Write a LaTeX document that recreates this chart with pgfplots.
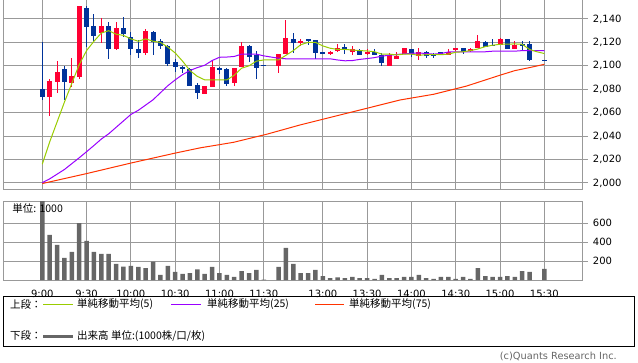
\documentclass[border=0pt]{standalone}
\usepackage{fontspec}
\setmainfont{DejaVu Sans}
\newfontfamily\jp{Noto Sans CJK JP}
\usepackage{pgfplots}
\usepackage{pgfplotstable}
\pgfplotsset{compat=1.18}
\definecolor{cred}{RGB}{255,0,51}
\definecolor{cblue}{RGB}{0,51,153}
\definecolor{ma5}{RGB}{153,204,0}
\definecolor{ma25}{RGB}{153,0,255}
\definecolor{ma75}{RGB}{255,51,0}
\definecolor{vol}{RGB}{102,102,102}
\definecolor{gridc}{RGB}{153,153,153}

\pgfplotstableread{
x o h l c
1 2073.8 2088.5 2057.5 2087.3
2 2086.5 2104 2077 2095
4 2085.6 2107 2081.7 2091.3
5 2090.7 2151.4 2088.8 2151.4
8 2127.8 2140.6 2119.8 2134
10 2114.4 2137.2 2113.5 2132
14 2110.7 2131.2 2109.3 2129.8
22 2076 2083 2076 2082.8
23 2081.7 2105 2081.7 2099.3
26 2085.1 2098 2083.1 2097.9
27 2098.8 2120.1 2098.8 2117
32 2100.1 2110.1 2094.2 2110.1
33 2109.9 2139.1 2109.9 2124
35 2119.8 2122.7 2117.2 2121.5
39 2110.1 2112.9 2109 2111.8
40 2112.7 2118.7 2111.6 2115.5
42 2111.8 2117 2109.5 2114.4
44 2110.1 2114.7 2109 2111.8
47 2100.1 2110.7 2100.1 2109.5
48 2105.9 2111.6 2105.9 2108.7
49 2109.9 2115.2 2109.9 2115.2
51 2108.4 2115 2105 2111.6
55 2109.5 2114.1 2109.5 2111.8
56 2113.3 2115.5 2113 2115
58 2112.4 2115 2112 2114.1
59 2115 2126.6 2115 2121.2
62 2117.8 2123.5 2117.8 2122.9
64 2114.1 2121 2114 2118.1
}\upc

\pgfplotstableread{
x o h l c
0 2080.2 2120 2070.9 2073.7
3 2097.3 2100.1 2070.9 2086
6 2149.7 2151.4 2116.4 2133.4
7 2134.3 2144 2121.5 2125.7
9 2134 2137.4 2106.1 2114.1
11 2132 2141.4 2124.4 2127
12 2124.9 2128.6 2109.3 2114.4
13 2114.4 2122.1 2106.4 2110.7
15 2128.6 2129.8 2109 2120.6
16 2121.2 2122.7 2114.1 2117.2
17 2117 2117.8 2100.1 2101.6
18 2103.6 2106.1 2094.5 2099.3
19 2098.8 2100.1 2093.6 2097.3
20 2097.3 2098.4 2082.6 2083.1
21 2083.7 2085.1 2071.5 2076.6
24 2097.9 2099.3 2093 2096.5
25 2097.3 2098 2083.1 2084.5
28 2117 2118.1 2103.6 2107.8
29 2109.3 2112.7 2088.8 2098.4
30 2100.8 2100.8 2099.8 2099.8
34 2122.7 2128.3 2110.7 2119.8
36 2122.7 2123 2117.8 2121.5
37 2122.1 2122.1 2106.1 2111.2
38 2111.8 2112 2110 2110.4
41 2116.4 2118.4 2110.1 2113.5
43 2113.3 2114.7 2109.5 2109.5
45 2111.8 2114.7 2109.5 2109.5
46 2109.5 2110.7 2100.1 2102.2
50 2114.1 2114.4 2107.8 2109.9
52 2112.1 2113 2106.4 2108.7
53 2110.1 2111.2 2106.4 2109.2
54 2111.6 2111.8 2109 2109
57 2115 2115 2110.4 2112.1
60 2120.4 2121.2 2116 2116.1
61 2117.8 2122.9 2117 2117
63 2122.9 2123 2114 2114.1
65 2118.7 2121 2113 2117.7
66 2118.7 2121 2104.4 2105.3
68 2105.2 2105.2 2104.2 2104.2
}\downc

\pgfplotsset{
  chartbase/.style={
    scale only axis, width=579.4pt, anchor=south west,
    xmin=-5.28, xmax=73.2,
    xtick={0,6,12,18,24,30,38,44,50,56,62,68},
    grid=major, major grid style={draw=gridc, line width=1pt},
    axis line style={draw=gridc, line width=1pt},
    xtick style={draw=none},
    ytick style={draw=gridc, line width=1pt},
    tick align=outside, major tick length=5pt,
    ytick pos=right, yticklabel pos=right,
    ticklabel style={font=\fontsize{10}{12}\selectfont, text=black},
    yticklabel style={anchor=west, inner sep=0pt, xshift=5pt},
    /pgf/number format/1000 sep={,},
    /pgf/number format/assume math mode=true,
    scaled y ticks=false,
  },
  wick/.style={draw=none, mark=none, forget plot,
    error bars/.cd, y dir=both, y explicit, error mark=none,
    error bar style={draw=#1, line width=1pt}},
  body/.style={draw=none, mark=none, forget plot,
    error bars/.cd, y dir=both, y explicit, error mark=none,
    error bar style={draw=#1, line width=5pt}},
}

\begin{document}
\begin{tikzpicture}
\useasboundingbox (0,0) rectangle (638pt,362pt);

\begin{axis}[chartbase, height=190pt, at={(3.3pt,172pt)},
  ymin=1994, ymax=2156.2, ytick={2000,2020,...,2140},
  xticklabels={}]
\addplot[wick=cred] table[x=x, y expr={(\thisrow{h}+\thisrow{l})/2}, y error expr={(\thisrow{h}-\thisrow{l})/2}] {\upc};
\addplot[wick=cblue] table[x=x, y expr={(\thisrow{h}+\thisrow{l})/2}, y error expr={(\thisrow{h}-\thisrow{l})/2}] {\downc};
\addplot[body=cred] table[x=x, y expr={(\thisrow{o}+\thisrow{c})/2}, y error expr={abs(\thisrow{c}-\thisrow{o})/2}] {\upc};
\addplot[body=cblue] table[x=x, y expr={(\thisrow{o}+\thisrow{c})/2}, y error expr={abs(\thisrow{c}-\thisrow{o})/2}] {\downc};
% MA75
\addplot[ma75, line width=1pt, mark=none] coordinates {
(0,1999.5) (6,2008) (12,2017) (18,2025.5) (21.4,2030) (25.9,2034.7) (30.4,2041.6) (34.9,2049.5) (39.4,2056.6) (44,2063.8) (48.5,2070.9) (53,2075.7) (57.5,2082.8) (62,2092) (64,2095.9) (66,2098.5) (68,2101.3)};
% MA25
\addplot[ma25, line width=1pt, mark=none] coordinates {
(0,2000.3) (1,2003.5) (2,2007.5) (3,2011.5) (4,2016.5) (5,2021.5) (6,2026.7) (7,2032) (8,2037.5) (9,2042) (10,2047.5) (11,2053) (12,2058.5) (13,2062) (14,2066.5) (15,2071) (16,2077) (17,2083) (18,2088) (19,2092.5) (20,2096) (21,2098.5) (22,2100.5) (23,2104.5) (24,2107.3) (25,2107.5) (26,2108) (27,2110) (28,2110) (29,2110) (30,2108.5) (32,2106.5) (33,2106) (34,2106) (35,2106) (36,2106) (37,2106) (38,2106) (39,2106) (40,2105) (41,2104.3) (42,2104.5) (43,2105.5) (44,2106.2) (45,2107) (46,2108.3) (47,2109) (48,2109.7) (49,2110.2) (50,2110.6) (51,2111) (52,2110.5) (53,2110) (54,2110.5) (55,2111.8) (56,2112) (57,2112) (58,2112) (59,2112) (60,2112) (61,2112.5) (62,2112.5) (63,2112.5) (64,2112.5) (65,2113) (66,2113) (67,2113) (68,2113)};
% MA5
\addplot[ma5, line width=1pt, mark=none] coordinates {
(0,2016) (1,2035) (2,2052) (3,2069) (4,2085) (5,2101) (6,2113) (7,2121) (8,2128) (9,2130) (10,2127) (11,2126) (12,2123) (13,2121) (14,2123) (15,2121) (16,2120) (17,2116) (18,2111) (19,2104) (20,2096) (21,2091) (22,2088) (23,2088) (24,2088) (25,2088) (26,2092) (27,2098) (28,2100) (29,2104) (30,2105) (32,2105) (33,2109) (34,2113) (35,2118) (36,2120) (37,2120) (38,2117) (39,2115) (40,2114) (41,2114) (42,2113.5) (43,2113) (44,2112.7) (45,2112) (46,2110) (47,2110) (48,2109.3) (49,2110) (50,2110) (51,2109) (52,2109.5) (53,2109.5) (54,2109.5) (55,2110) (56,2111.6) (57,2112) (58,2113) (59,2114.4) (60,2116.4) (61,2117.6) (62,2118.4) (63,2118.5) (64,2118.7) (65,2118.4) (66,2114) (67,2112) (68,2110.5)};
\end{axis}

\begin{axis}[chartbase, height=78.3pt, at={(3.3pt,82pt)},
  ymin=0, ymax=829, ytick={200,400,600},
  xticklabels={9:00,9:30,10:00,10:30,11:00,11:30,13:00,13:30,14:00,14:30,15:00,15:30},
  xticklabel style={anchor=center, yshift=-9pt}]
\addplot[ybar, bar width=4.5pt, fill=vol, draw=none] coordinates {
(0,840) (1,477) (2,371) (3,233) (4,297) (5,601) (6,414) (7,297) (8,276) (9,276) (10,170) (11,141) (12,149) (13,138) (14,127) (15,195) (16,53) (17,149) (18,85) (19,64) (20,74) (21,113) (22,64) (23,138) (24,74) (25,53) (26,32) (27,95) (28,74) (29,106) (30,5) (32,138) (33,340) (34,170) (35,74) (36,74) (37,106) (38,42) (39,21) (40,28) (41,21) (42,32) (43,21) (44,21) (45,11) (46,53) (47,21) (48,21) (49,32) (50,32) (51,53) (52,21) (53,11) (54,32) (55,32) (56,11) (57,32) (58,11) (59,127) (60,42) (61,32) (62,32) (63,42) (64,32) (65,95) (66,85) (68,117)};
\end{axis}

\node[anchor=west, inner sep=0pt, font=\jp\fontsize{10.5}{12}\selectfont] at (12.3pt,153pt) {単位: 1000};

% legend box
\draw[black, line width=1pt] (3.8pt,65pt) rectangle (634.7pt,16pt);
\begin{scope}[every node/.style={anchor=west, inner sep=0pt, font=\jp\fontsize{10.5}{12}\selectfont}]
\node at (10pt,57.5pt) {上段：};
\draw[ma5, line width=1pt] (43pt,57.5pt) -- (73pt,57.5pt);
\node at (77pt,57.5pt) {単純移動平均(5)};
\draw[ma25, line width=1pt] (171pt,57.5pt) -- (201pt,57.5pt);
\node at (207pt,57.5pt) {単純移動平均(25)};
\draw[ma75, line width=1pt] (315pt,57.5pt) -- (344pt,57.5pt);
\node at (349pt,57.5pt) {単純移動平均(75)};
\node at (10pt,26pt) {下段：};
\draw[vol, line width=3pt] (43pt,26pt) -- (73pt,26pt);
\node at (77pt,26pt) {出来高 単位:(1000株/口/枚)};
\end{scope}
\node[anchor=east, inner sep=0pt, text=vol, font=\fontsize{9.8}{11}\selectfont] at (617pt,5.5pt) {(c)Quants Research Inc.};
\end{tikzpicture}
\end{document}
